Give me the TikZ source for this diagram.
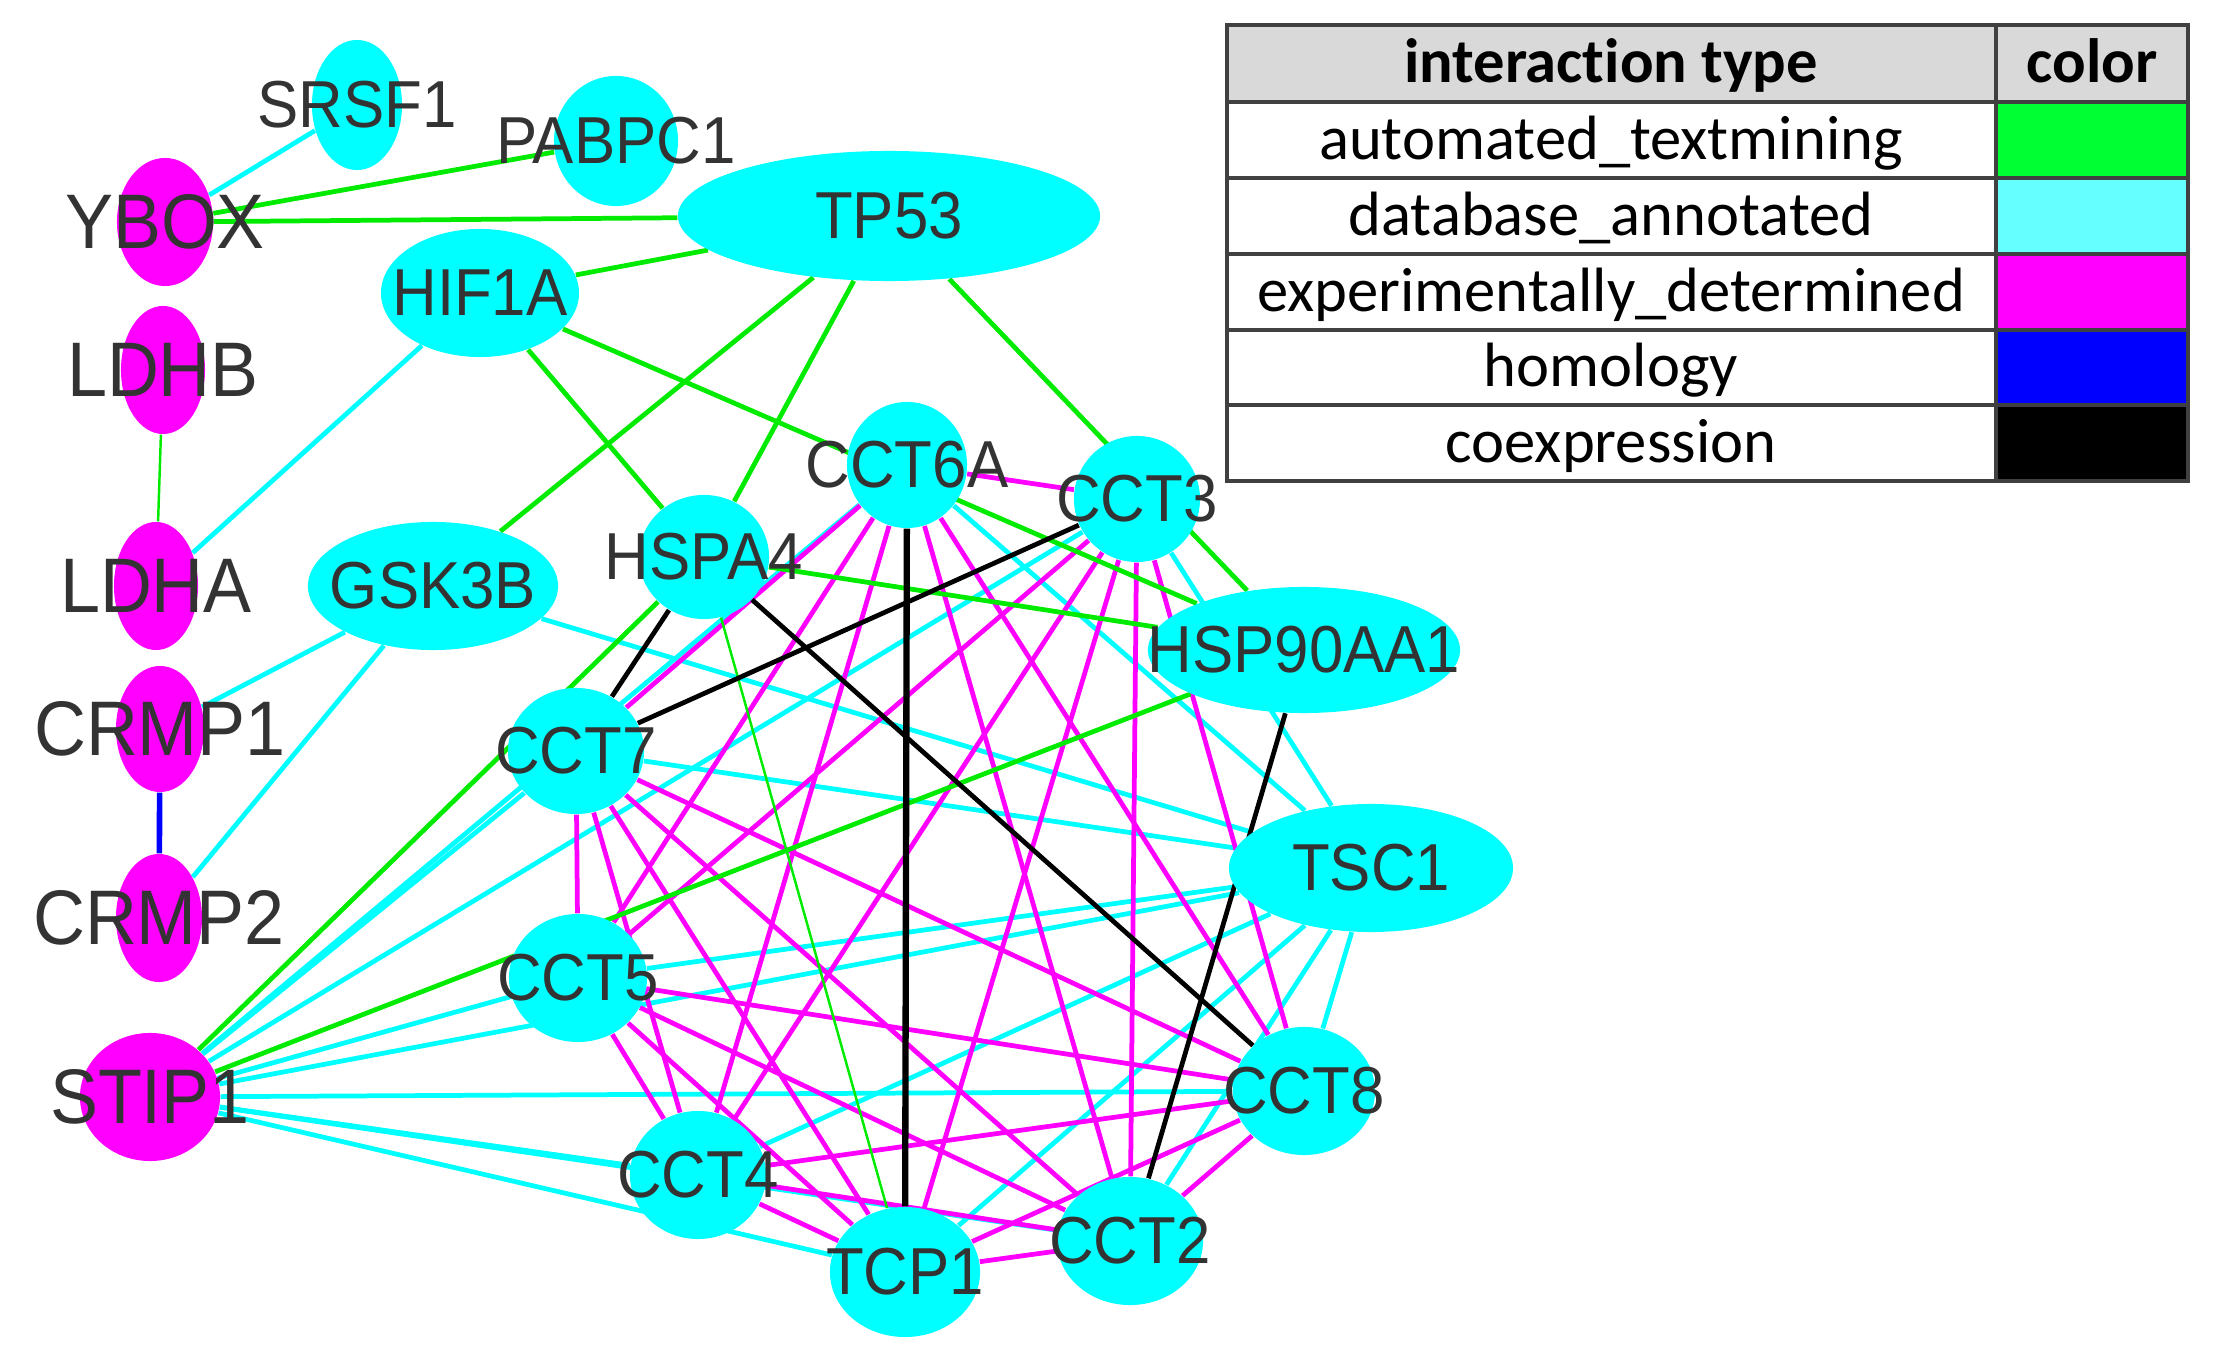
\documentclass[tikz,border=0pt]{standalone}
\usepackage{fontspec}
\setmainfont{Liberation Sans}
\newfontfamily\legendfont[Ligatures={NoCommon}]{Carlito}
\usetikzlibrary{shapes.geometric,backgrounds}

\definecolor{protcyan}{RGB}{0,255,255}
\definecolor{protmag}{RGB}{255,0,255}
\definecolor{labelgray}{RGB}{51,51,51}
\definecolor{tmgreen}{RGB}{0,235,0}
\definecolor{dbcyan}{RGB}{0,255,255}
\definecolor{exmag}{RGB}{255,0,255}
\definecolor{homblue}{RGB}{0,0,255}
\definecolor{headgray}{RGB}{217,217,217}
\definecolor{keygreen}{RGB}{0,255,51}
\definecolor{keycyan}{RGB}{102,255,255}
\definecolor{tabgray}{RGB}{64,64,64}

\newcommand{\gl}[1]{\makebox[0pt]{\scalebox{0.93}[1]{#1}}}

\begin{document}
\begin{tikzpicture}[x=0.01cm, y=-0.01cm,
    gene/.style={ellipse, fill=protcyan, inner sep=0pt, text=labelgray, font=\fontsize{18.9}{19}\selectfont},
    hubgene/.style={gene, fill=protmag, font=\fontsize{22}{22}\selectfont},
    sz/.style 2 args={minimum width=#1, minimum height=#2},
    tm/.style={draw=tmgreen, line width=1.35pt},
    db/.style={draw=dbcyan, line width=1.35pt},
    ex/.style={draw=exmag, line width=1.35pt},
    coex/.style={draw=black, line width=1.35pt},
    hom/.style={draw=homblue, line width=1.6pt},
    legtext/.style={anchor=base, font=\legendfont\fontsize{17.8}{18}\selectfont, text=black}]
  \useasboundingbox (0,0) rectangle (2223,1352);

  % Nodes
  \node[gene, sz={0.9cm}{1.3cm}] (SRSF1) at (357,105) {\gl{SRSF1}};
  \node[gene, sz={1.24cm}{1.3cm}] (PABPC1) at (616,141) {\gl{PABPC1}};
  \node[hubgene, sz={0.96cm}{1.28cm}] (YBOX) at (165,222) {\gl{YBOX}};
  \node[gene, sz={4.22cm}{1.3cm}] (TP53) at (889,216) {\gl{TP53}};
  \node[gene, sz={1.98cm}{1.28cm}] (HIF1A) at (480,293) {\gl{HIF1A}};
  \node[hubgene, sz={0.84cm}{1.28cm}] (LDHB) at (163,370) {\gl{LDHB}};
  \node[hubgene, sz={0.84cm}{1.28cm}] (LDHA) at (156,586) {\gl{LDHA}};
  \node[gene, sz={2.5cm}{1.28cm}] (GSK3B) at (433,586) {\gl{GSK3B}};
  \node[gene, sz={1.3cm}{1.24cm}] (HSPA4) at (704,557) {\gl{HSPA4}};
  \node[gene, sz={1.2cm}{1.26cm}] (CCT6A) at (907,465) {\gl{CCT6A}};
  \node[gene, sz={1.26cm}{1.26cm}] (CCT3) at (1137,499) {\gl{CCT3}};
  \node[gene, sz={3.12cm}{1.26cm}] (HSP90AA1) at (1304,650) {\gl{HSP90AA1}};
  \node[hubgene, sz={0.88cm}{1.26cm}] (CRMP1) at (160,729) {\gl{CRMP1}};
  \node[hubgene, sz={0.86cm}{1.28cm}] (CRMP2) at (159,918) {\gl{CRMP2}};
  \node[gene, sz={1.36cm}{1.26cm}] (CCT7) at (576,751) {\gl{CCT7}};
  \node[gene, sz={2.84cm}{1.28cm}] (TSC1) at (1371,868) {\gl{TSC1}};
  \node[gene, sz={1.38cm}{1.28cm}] (CCT5) at (578,978) {\gl{CCT5}};
  \node[hubgene, sz={1.4cm}{1.28cm}] (STIP1) at (150,1097) {\gl{STIP1}};
  \node[gene, sz={1.42cm}{1.28cm}] (CCT8) at (1304,1091) {\gl{CCT8}};
  \node[gene, sz={1.36cm}{1.28cm}] (CCT4) at (698,1175) {\gl{CCT4}};
  \node[gene, sz={1.46cm}{1.28cm}] (CCT2) at (1130,1241) {\gl{CCT2}};
  \node[gene, sz={1.5cm}{1.3cm}] (TCP1) at (905,1272) {\gl{TCP1}};

  % Edges
  \begin{scope}[on background layer]
    % database_annotated
    \draw[db] (YBOX) -- (SRSF1);
    \draw[db] (HIF1A) -- (LDHA);
    \draw[db] (GSK3B) -- (CRMP1);
    \draw[db] (GSK3B) -- (CRMP2);
    \draw[db] (GSK3B) -- (TSC1);
    \draw[db] (STIP1) -- (CCT7);
    \draw[db] (STIP1) -- (CCT6A);
    \draw[db] (STIP1) -- (CCT3);
    \draw[db] (STIP1) -- (CCT5);
    \draw[db] (STIP1) -- (TSC1);
    \draw[db] (STIP1) -- (CCT8);
    \draw[db] (STIP1) -- (CCT4);
    \draw[db] (STIP1) -- (CCT2);
    \draw[db] (STIP1) -- (TCP1);
    \draw[db] (TSC1) -- (CCT7);
    \draw[db] (TSC1) -- (CCT5);
    \draw[db] (TSC1) -- (CCT6A);
    \draw[db] (TSC1) -- (CCT3);
    \draw[db] (TSC1) -- (CCT8);
    \draw[db] (TSC1) -- (CCT2);
    \draw[db] (TSC1) -- (TCP1);
    \draw[db] (TSC1) -- (CCT4);
    % experimentally_determined
    \draw[ex] (CCT7) -- (CCT5);
    \draw[ex] (CCT7) -- (CCT4);
    \draw[ex] (CCT7) -- (TCP1);
    \draw[ex] (CCT7) -- (CCT2);
    \draw[ex] (CCT7) -- (CCT8);
    \draw[ex] (CCT7) -- (CCT6A);
    \draw[ex] (CCT6A) -- (CCT3);
    \draw[ex] (CCT6A) -- (CCT5);
    \draw[ex] (CCT6A) -- (CCT4);
    \draw[ex] (CCT6A) -- (CCT2);
    \draw[ex] (CCT6A) -- (CCT8);
    \draw[ex] (CCT3) -- (CCT5);
    \draw[ex] (CCT3) -- (CCT4);
    \draw[ex] (CCT3) -- (TCP1);
    \draw[ex] (CCT3) -- (CCT2);
    \draw[ex] (CCT3) -- (CCT8);
    \draw[ex] (CCT5) -- (CCT4);
    \draw[ex] (CCT5) -- (TCP1);
    \draw[ex] (CCT5) -- (CCT2);
    \draw[ex] (CCT5) -- (CCT8);
    \draw[ex] (CCT4) -- (TCP1);
    \draw[ex] (CCT4) -- (CCT2);
    \draw[ex] (CCT4) -- (CCT8);
    \draw[ex] (TCP1) -- (CCT2);
    \draw[ex] (TCP1) -- (CCT8);
    \draw[ex] (CCT2) -- (CCT8);
    % automated_textmining
    \draw[tm] (YBOX) -- (PABPC1);
    \draw[tm] (YBOX) -- (TP53);
    \draw[tm] (TP53) -- (HIF1A);
    \draw[tm] (TP53) -- (GSK3B);
    \draw[tm] (TP53) -- (HSPA4);
    \draw[tm] (TP53) -- (HSP90AA1);
    \draw[tm] (HIF1A) -- (HSPA4);
    \draw[tm] (HIF1A) -- (HSP90AA1);
    \draw[tm] (HSPA4) -- (HSP90AA1);
    \draw[tm] (STIP1) -- (HSPA4);
    \draw[tm] (STIP1) -- (HSP90AA1);
    \draw[tm, line width=0.7pt] (LDHB) -- (LDHA);
    \draw[tm, line width=0.7pt] (HSPA4) -- (TCP1);
    % coexpression
    \draw[coex, line width=1.8pt] (CCT6A) -- (TCP1);
    \draw[coex] (CCT7) -- (CCT3);
    \draw[coex] (HSPA4) -- (CCT7);
    \draw[coex] (HSPA4) -- (CCT8);
    \draw[coex] (HSP90AA1) -- (CCT2);
    % homology
    \draw[hom] (CRMP1) -- (CRMP2);
  \end{scope}

  % Legend
  \fill[headgray] (1227,25) rectangle (2188,102);
  \fill[keygreen] (1996,102) rectangle (2188,178);
  \fill[keycyan] (1996,178) rectangle (2188,254);
  \fill[exmag] (1996,254) rectangle (2188,330);
  \fill[homblue] (1996,330) rectangle (2188,405);
  \fill[black] (1996,405) rectangle (2188,481);
  \draw[tabgray, line width=1pt] (1227,25) rectangle (2188,481) (1996,25) -- (1996,481);
  \foreach \y in {102,178,254,330,405} \draw[tabgray, line width=1pt] (1227,\y) -- (2188,\y);
  \node[legtext] (hdtype) at (1611,83) {\bfseries interaction type};
  \node[legtext] (hdcolor) at (2092,83) {\bfseries color};
  \node[legtext] (ktm) at (1611,160) {automated\_textmining};
  \node[legtext] (kdb) at (1611,236) {database\_annotated};
  \node[legtext] (kex) at (1611,312) {experimentally\_determined};
  \node[legtext] (khom) at (1611,387) {homology};
  \node[legtext] (kcoex) at (1611,463) {coexpression};
\end{tikzpicture}
\end{document}
